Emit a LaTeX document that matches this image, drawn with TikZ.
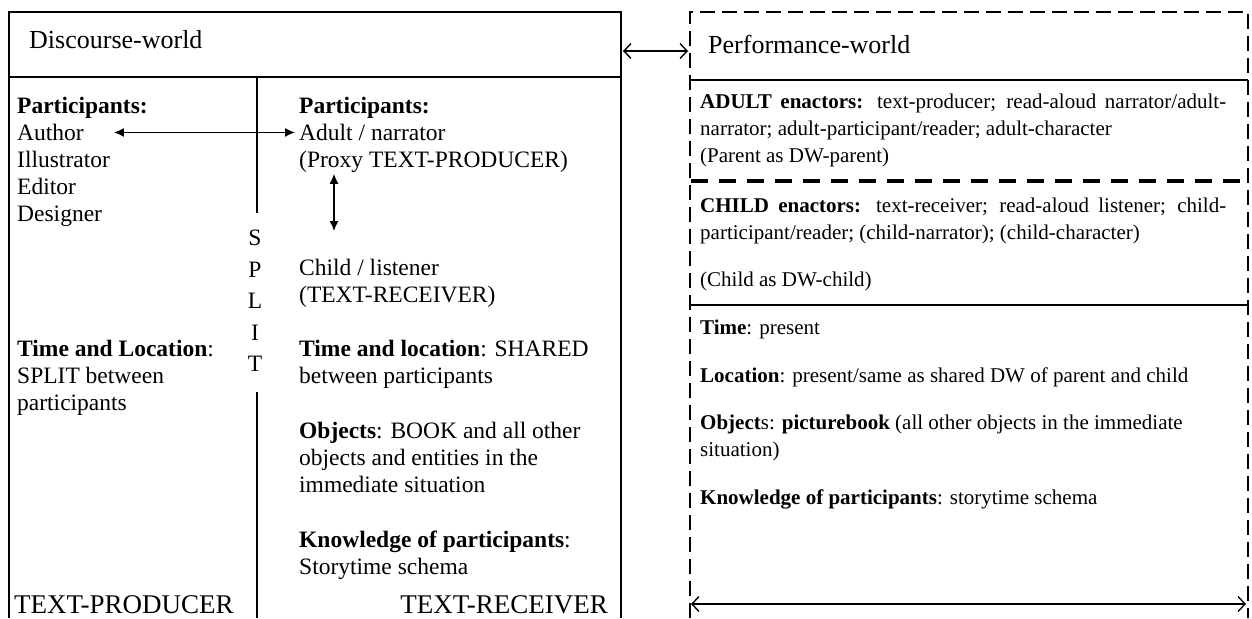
\documentclass[tikz,border=0pt]{standalone}
\usepackage{fontspec}
\setmainfont{Liberation Serif}
\usetikzlibrary{
  positioning,
  arrows.meta,
  calc
}
\tikzset{
  frame/.style={
    line width=1.4pt,
  },
  pwframe/.style={
    frame,
    dash pattern=on 15pt off 7pt,
  },
  cut/.style={
    line width=4.5pt,
    dash pattern=on 17pt off 11pt,
  },
  rule/.style={
    line width=1.2pt,
  },
  lbl/.style={
    inner sep=0pt,
    anchor=north west,
    align=left,
    font=\bodyfs,
  },
  plbl/.style={
    lbl,
    font=\pwfs,
  },
  title/.style={
    inner sep=0pt,
    anchor=west,
    font=\titlefs,
  },
  role/.style={
    title,
    font=\fontsize{27}{30}\selectfont,
  },
  link/.style={
    line width=1.4pt,
    {Latex[length=10pt,width=9pt]}-{Latex[length=10pt,width=9pt]},
  },
  swap/.style={
    line width=1.4pt,
    {Straight Barb[length=7pt,width=15pt]}-{Straight Barb[length=7pt,width=15pt]},
  },
}
\newcommand{\titlefs}{\fontsize{26}{30}\selectfont}
\newcommand{\bodyfs}{\fontsize{23.5}{27}\selectfont}
\newcommand{\pwfs}{\fontsize{21}{27}\selectfont}
\newcommand{\fullline}[1]{\makebox[526pt][s]{#1}}

\begin{document}
\begin{tikzpicture}[x=1pt,y=-1pt]
  \useasboundingbox (0,0) rectangle (1252,618);

  % discourse-world box
  \draw[frame] (9,618) -- (9,12) -- (621,12) -- (621,618);
  \draw[frame] (9,77) -- (621,77);
  \draw[frame] (257,77) -- (257,213);
  \draw[frame] (257,392) -- (257,618);
  \node[title] (dwtitle) at (29,40) {Discourse-world};

  % producer side
  \node[lbl] (lpart) at (17,97) {\textbf{Participants:}};
  \node[lbl] (author) at (17,124) {Author};
  \node[lbl] (crew) at (17,151) {Illustrator\\Editor\\Designer};
  \node[lbl] (ltime) at (17,340) {\textbf{Time and Location}:\\SPLIT between\\participants};
  \node[role] (producer) at (14,605) {TEXT-PRODUCER};

  \node[lbl, anchor=north, align=center, font=\fontsize{23.5}{31.5}\selectfont]
    (split) at (255,230) {S\\P\\L\\I\\T};

  % receiver side
  \node[lbl] (rpart) at (299,97) {\textbf{Participants:}};
  \node[lbl] (adult) at (299,124) {Adult / narrator};
  \node[lbl] (proxy) at (299,151) {(Proxy TEXT-PRODUCER)};
  \node[lbl] (listener) at (299,259) {Child / listener\\(TEXT-RECEIVER)};
  \node[lbl] (rtime) at (299,340) {\textbf{Time and location}: SHARED\\between participants};
  \node[lbl] (objects) at (299,422) {\textbf{Objects}: BOOK and all other\\objects and entities in the\\immediate situation};
  \node[lbl] (know) at (299,531) {\textbf{Knowledge of participants}:\\Storytime schema};
  \node[role, anchor=east] (receiver) at (608,605) {TEXT-RECEIVER};

  \draw[link, shorten <=30pt, shorten >=4pt] (author.east) -- (author.east -| adult.west);
  \draw[link, shorten <=1pt, shorten >=28pt]
    ([xshift=35pt]proxy.south west) -- ([xshift=35pt]listener.north west);

  % performance-world box
  \draw[pwframe] (690,618) -- (690,12) -- (1248,12) -- (1248,618);
  \draw[rule] (690,80) -- (1248,80);
  \draw[cut] (691,181) -- (1248,181);
  \draw[rule] (690,305) -- (1248,305);
  \node[title] (pwtitle) at (708,44) {Performance-world};

  \node[plbl] (adultpw) at (700,94) {\fullline{\textbf{ADULT enactors:} text-producer; read-aloud narrator/adult-}\\narrator; adult-participant/reader; adult-character};
  \node[plbl] (parent) at (700,148) {(Parent as DW-parent)};
  \node[plbl] (childpw) at (700,198) {\fullline{\textbf{CHILD enactors:} text-receiver; read-aloud listener; child-}\\participant/reader; (child-narrator); (child-character)};
  \node[plbl] (dwchild) at (700,272) {(Child as DW-child)};
  \node[plbl] (tpres) at (700,320) {\textbf{Time}: present};
  \node[plbl] (loc) at (700,368) {\textbf{Location}: present/same as shared DW of parent and child};
  \node[plbl] (obj) at (700,415) {\textbf{Object}s: \textbf{picturebook} (all other objects in the immediate\\situation)};
  \node[plbl] (kn) at (700,490) {\textbf{Knowledge of participants}: storytime schema};

  % links between the worlds
  \coordinate (dwedge) at (621,51);
  \coordinate (pwedge) at (690,51);
  \draw[swap, shorten <=2pt, shorten >=2pt] (dwedge) -- (pwedge);
  \coordinate (pwleft) at (690,604);
  \coordinate (pwright) at (1248,604);
  \draw[swap, shorten <=1pt, shorten >=2pt] (pwleft) -- (pwright);
\end{tikzpicture}
\end{document}
